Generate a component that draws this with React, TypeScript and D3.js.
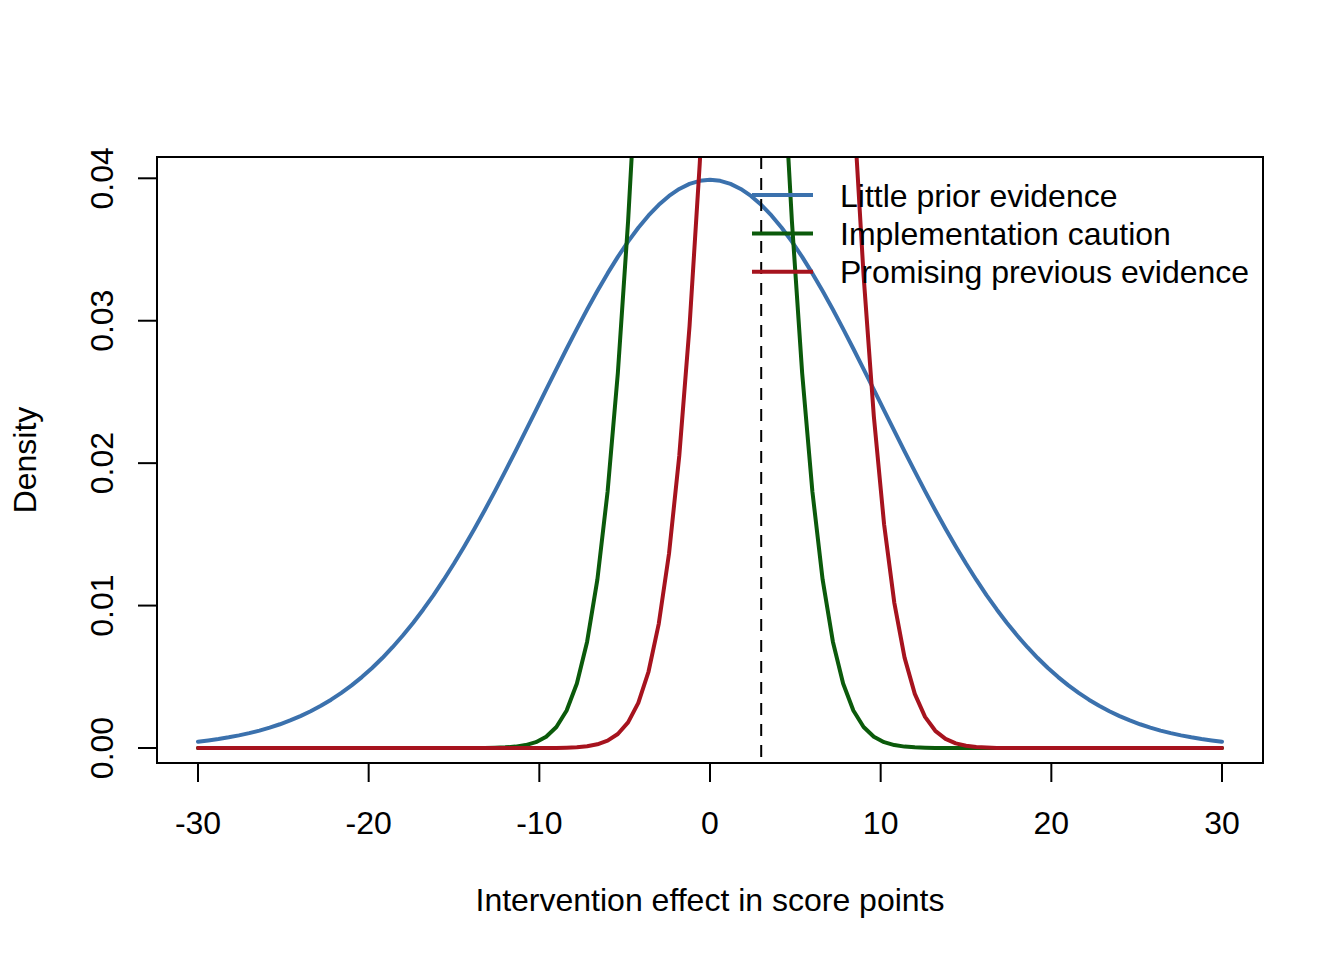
import React from "react";
import * as d3 from "d3";

// evaluation grid of the curves: -30 .. 30, 101 points
const xGrid = d3.range(101).map((i) => -30 + 0.6 * i);

const littlePrior = [
  0.000443, 0.00053, 0.000631, 0.000749, 0.000885, 0.001042, 0.001223, 0.00143, 0.001666, 0.001935,
  0.002239, 0.002581, 0.002965, 0.003394, 0.003871, 0.004398, 0.00498, 0.005618, 0.006315, 0.007074,
  0.007895, 0.00878, 0.009728, 0.01074, 0.011816, 0.012952, 0.014146, 0.015395, 0.016694, 0.018037,
  0.019418, 0.02083, 0.022265, 0.023713, 0.025164, 0.026608, 0.028034, 0.02943, 0.030785, 0.032086,
  0.033322, 0.034482, 0.035553, 0.036526, 0.037391, 0.038139, 0.038762, 0.039253, 0.039608, 0.039822,
  0.039894,
  0.039822, 0.039608, 0.039253, 0.038762, 0.038139, 0.037391, 0.036526, 0.035553, 0.034482, 0.033322,
  0.032086, 0.030785, 0.02943, 0.028034, 0.026608, 0.025164, 0.023713, 0.022265, 0.02083, 0.019418,
  0.018037, 0.016694, 0.015395, 0.014146, 0.012952, 0.011816, 0.01074, 0.009728, 0.00878, 0.007895,
  0.007074, 0.006315, 0.005618, 0.00498, 0.004398, 0.003871, 0.003394, 0.002965, 0.002581, 0.002239,
  0.001935, 0.001666, 0.00143, 0.001223, 0.001042, 0.000885, 0.000749, 0.000631, 0.00053, 0.000443,
];

const caution = [
  0, 0, 0, 0, 0, 0, 0, 0, 0, 0,
  0, 0, 0, 0, 0, 0, 0, 0, 0, 0,
  0, 0, 0, 0, 0, 0, 0, 0, 0, 0.0000196,
  0.0000446, 0.0000973, 0.000204, 0.000411, 0.000795, 0.001477, 0.002638, 0.004528, 0.007465, 0.01182,
  0.018, 0.02632, 0.03697, 0.04991, 0.06473, 0.08066, 0.09656, 0.11107, 0.12276, 0.13035,
  0.13298,
  0.13035, 0.12276, 0.11107, 0.09656, 0.08066, 0.06473, 0.04991, 0.03697, 0.02632, 0.018,
  0.01182, 0.007465, 0.004528, 0.002638, 0.001477, 0.000795, 0.000411, 0.000204, 0.0000973, 0.0000446,
  0.0000196, 0, 0, 0, 0, 0, 0, 0, 0, 0,
  0, 0, 0, 0, 0, 0, 0, 0, 0, 0,
  0, 0, 0, 0, 0, 0, 0, 0, 0, 0,
];

const promising = [
  0, 0, 0, 0, 0, 0, 0, 0, 0, 0,
  0, 0, 0, 0, 0, 0, 0, 0, 0, 0,
  0, 0, 0, 0, 0, 0, 0, 0, 0, 0,
  0, 0, 0, 0, 0, 0, 0.0000259, 0.0000581, 0.000125, 0.000259,
  0.000514, 0.000982, 0.001801, 0.003173, 0.005371, 0.008738, 0.01366, 0.02052, 0.0296, 0.04104,
  0.05467, 0.06996, 0.08603, 0.10163, 0.11535, 0.12579, 0.1318, 0.13268, 0.12834, 0.11926,
  0.10648, 0.09135, 0.07529, 0.05962, 0.04536, 0.03316, 0.02329, 0.01571, 0.01019, 0.006345,
  0.003798, 0.002185, 0.001207, 0.000641, 0.000327, 0.00016, 0.0000754, 0.0000341, 0, 0,
  0, 0, 0, 0, 0, 0, 0, 0, 0, 0,
  0, 0, 0, 0, 0, 0, 0, 0, 0, 0,
  0,
];

const seriesNames = ["Little prior evidence", "Implementation caution", "Promising previous evidence"];
const seriesValues = [littlePrior, caution, promising];
const seriesColors = ["#3B71AD", "#0B5A0B", "#A6131E"];

const xTicks = [-30, -20, -10, 0, 10, 20, 30];
const yTicks = [0, 0.01, 0.02, 0.03, 0.04];
const refLine = 3;

const font = "'Liberation Sans', Arial, Helvetica, sans-serif";

const App = () => {
  const W = 1344;
  const H = 960;
  const box = { left: 157, right: 1263, top: 157, bottom: 763 };

  const x = d3.scaleLinear().domain([-30, 30]).range([198, 1222]);
  const y = d3.scaleLinear().domain([0, 0.04]).range([748, 178.3]);

  const line = d3
    .line<number>()
    .x((d, i) => x(xGrid[i]))
    .y((d) => y(d));

  return (
    <svg
      width={W}
      height={H}
      style={{ position: "absolute", left: 0, top: 0, background: "#fff" }}
      fontFamily={font}
    >
      <defs>
        <clipPath id="plotArea">
          <rect x={box.left} y={box.top} width={box.right - box.left} height={box.bottom - box.top} />
        </clipPath>
      </defs>

      <g clipPath="url(#plotArea)">
        {seriesValues.map((vals, i) => (
          <path
            key={i}
            d={line(vals) as string}
            fill="none"
            stroke={seriesColors[i]}
            strokeWidth={4}
            strokeLinecap="round"
            strokeLinejoin="round"
          />
        ))}
        <line
          x1={x(refLine)}
          x2={x(refLine)}
          y1={box.top}
          y2={box.bottom}
          stroke="#000"
          strokeWidth={2}
          strokeDasharray="12 9"
        />
      </g>

      <rect
        x={box.left}
        y={box.top}
        width={box.right - box.left}
        height={box.bottom - box.top}
        fill="none"
        stroke="#000"
        strokeWidth={2}
      />

      {/* x axis */}
      <line x1={x(-30)} x2={x(30)} y1={box.bottom} y2={box.bottom} stroke="#000" strokeWidth={2} />
      {xTicks.map((t) => (
        <g key={t}>
          <line x1={x(t)} x2={x(t)} y1={box.bottom} y2={box.bottom + 19} stroke="#000" strokeWidth={2} />
          <text x={x(t)} y={834} textAnchor="middle" fontSize={32}>
            {t}
          </text>
        </g>
      ))}
      <text x={(box.left + box.right) / 2} y={911} textAnchor="middle" fontSize={32}>
        Intervention effect in score points
      </text>

      {/* y axis */}
      <line x1={box.left} x2={box.left} y1={y(0)} y2={y(0.04)} stroke="#000" strokeWidth={2} />
      {yTicks.map((t) => (
        <g key={t}>
          <line x1={box.left} x2={box.left - 19} y1={y(t)} y2={y(t)} stroke="#000" strokeWidth={2} />
          <text transform={`translate(113,${y(t)}) rotate(-90)`} textAnchor="middle" fontSize={32}>
            {t.toFixed(2)}
          </text>
        </g>
      ))}
      <text transform={`translate(36,${(box.top + box.bottom) / 2}) rotate(-90)`} textAnchor="middle" fontSize={32}>
        Density
      </text>

      {/* legend */}
      {seriesNames.map((name, i) => {
        const ly = 195 + i * 38.4;
        return (
          <g key={name}>
            <line x1={752} x2={813} y1={ly} y2={ly} stroke={seriesColors[i]} strokeWidth={4} />
            <text x={840} y={ly + 11.5} fontSize={32}>
              {name}
            </text>
          </g>
        );
      })}
    </svg>
  );
};

export default App;
